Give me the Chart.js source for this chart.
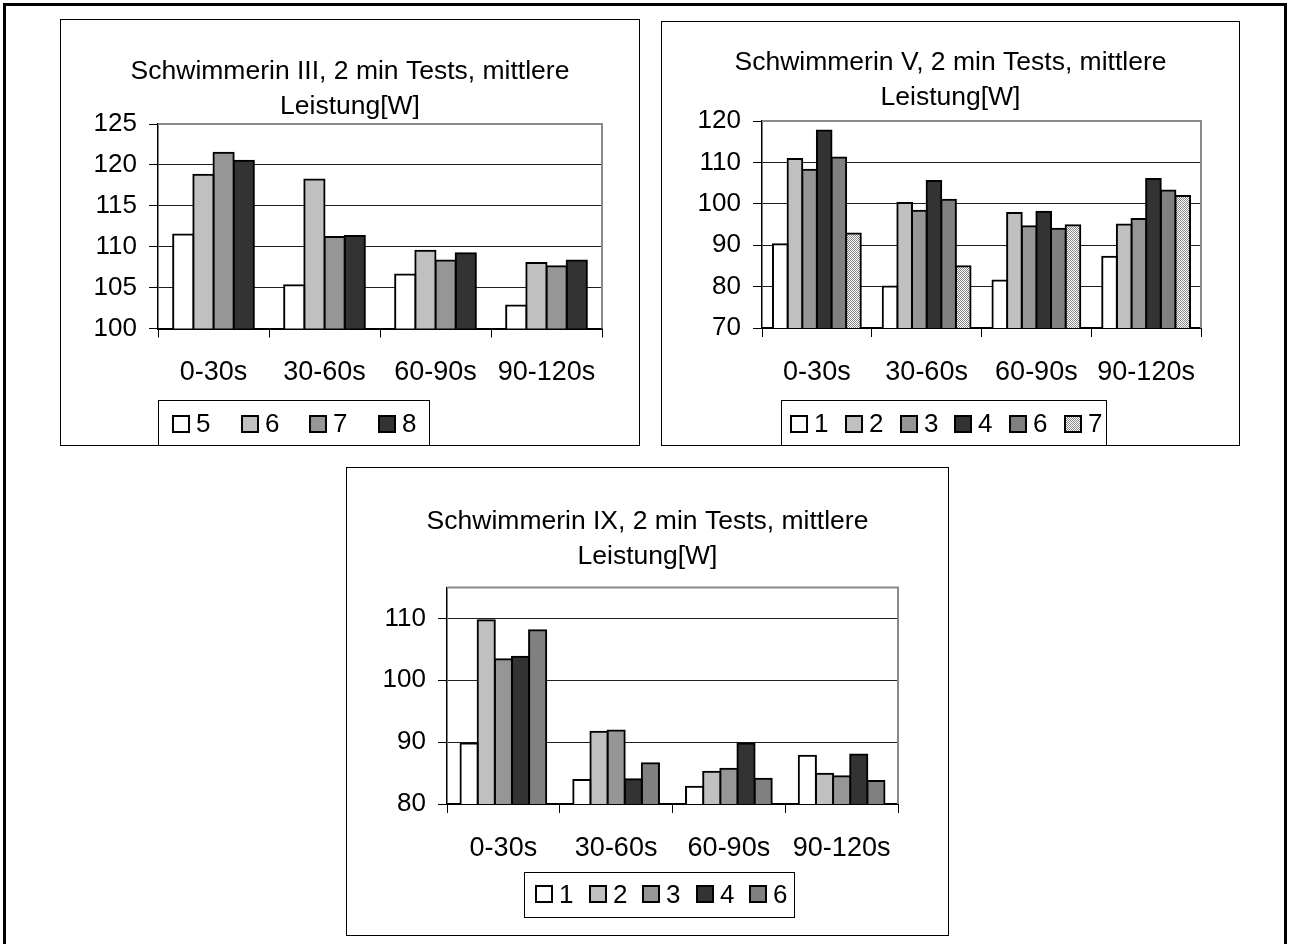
<!DOCTYPE html>
<html>
<head>
<meta charset="utf-8">
<title>Schwimmerinnen – 2 min Tests, mittlere Leistung</title>
<script src="https://cdn.jsdelivr.net/npm/chart.js@4/dist/chart.umd.min.js"></script>
<style>
  html, body { margin: 0; padding: 0; background: #fff; }
  body { width: 1290px; height: 944px; position: relative; overflow: hidden; }
  #frame { position: absolute; left: 3px; top: 3px; width: 1278px; height: 960px;
           border: 3px solid #000; border-bottom: none; }
  .panel { position: absolute; border: 1px solid #000; background: #fff; }
  .panel canvas { display: block; }
</style>
</head>
<body>
<div id="frame"></div>
<div class="panel" style="left:60px;top:19px;"><canvas id="chartIII" width="578" height="425"></canvas></div>
<div class="panel" style="left:661px;top:21px;"><canvas id="chartV" width="577" height="423"></canvas></div>
<div class="panel" style="left:346px;top:467px;"><canvas id="chartIX" width="601" height="467"></canvas></div>

<script>
// ---- data -------------------------------------------------------------
const categories = ['0-30s', '30-60s', '60-90s', '90-120s'];

// Schwimmerin III, mean power per 30 s segment [W]
const testsIII = ['5', '6', '7', '8'];
const iii_test5 = [111.5, 105.3, 106.6, 102.8];
const iii_test6 = [118.8, 118.2, 109.5, 108.0];
const iii_test7 = [121.5, 111.2, 108.3, 107.6];
const iii_test8 = [120.5, 111.3, 109.2, 108.3];
const yTicksIII = [100, 105, 110, 115, 120, 125];

// Schwimmerin V
const testsV = ['1', '2', '3', '4', '6', '7'];
const v_test1 = [90.2, 80.0, 81.5, 87.2];
const v_test2 = [110.8, 100.2, 97.8, 95.0];
const v_test3 = [108.2, 98.3, 94.6, 96.3];
const v_test4 = [117.7, 105.5, 98.1, 106.0];
const v_test6 = [111.2, 101.0, 94.0, 103.2];
const v_test7 = [92.8, 84.9, 94.8, 101.9];
const yTicksV = [70, 80, 90, 100, 110, 120];

// Schwimmerin IX
const testsIX = ['1', '2', '3', '4', '6'];
const ix_test1 = [89.8, 83.9, 82.8, 87.8];
const ix_test2 = [109.7, 91.7, 85.2, 84.9];
const ix_test3 = [103.4, 91.9, 85.7, 84.5];
const ix_test4 = [103.8, 84.0, 89.8, 88.0];
const ix_test6 = [108.1, 86.6, 84.1, 83.7];
const yTicksIX = [80, 90, 100, 110];
const yTopIX = 115;

// ---- styling ----------------------------------------------------------
const FONT = "'Liberation Sans', Arial, Helvetica, sans-serif";
const WHITE = '#ffffff', LIGHT = '#c0c0c0', MID = '#969696', DARK = '#333333', GREY = '#808080';

// fine dotted fill used for test 7 of Schwimmerin V
function dotPattern() {
  const c = document.createElement('canvas');
  c.width = 2; c.height = 2;
  const g = c.getContext('2d');
  g.fillStyle = '#ffffff'; g.fillRect(0, 0, 2, 2);
  g.fillStyle = '#8a8a8a';
  g.fillRect(0, 0, 1, 1);
  g.fillRect(1, 1, 1, 1);
  return g.createPattern(c, 'repeat');
}
const DOTS = dotPattern();

Chart.defaults.font.family = FONT;
Chart.defaults.color = '#000';

// grey top/right edge of the plot area
const plotFrame = {
  id: 'plotFrame',
  beforeDatasetsDraw(chart) {
    const { ctx, chartArea: a } = chart;
    ctx.save();
    ctx.strokeStyle = '#8a8a8a';
    ctx.lineWidth = 2;
    ctx.beginPath();
    ctx.moveTo(a.left, a.top);
    ctx.lineTo(a.right, a.top);
    ctx.lineTo(a.right, a.bottom);
    ctx.stroke();
    ctx.restore();
  }
};

// legend drawn inside a bordered box below the category labels
const boxedLegend = {
  id: 'boxedLegend',
  afterDraw(chart, args, o) {
    const ctx = chart.ctx;
    ctx.save();
    ctx.fillStyle = '#fff';
    ctx.fillRect(o.x, o.y, o.w, o.h);
    ctx.strokeStyle = '#000';
    ctx.lineWidth = 1;
    ctx.strokeRect(o.x + 0.5, o.y + 0.5, o.w - 1, o.h - 1);
    ctx.font = `26px ${FONT}`;
    ctx.textBaseline = 'middle';
    ctx.textAlign = 'left';
    chart.data.datasets.forEach((ds, i) => {
      const sx = Math.round(o.first + i * o.step);
      ctx.fillStyle = ds.backgroundColor;
      ctx.fillRect(sx, o.sy, o.size, o.size);
      ctx.lineWidth = 2;
      ctx.strokeStyle = '#000';
      ctx.strokeRect(sx + 1, o.sy + 1, o.size - 2, o.size - 2);
      ctx.fillStyle = '#000';
      ctx.fillText(ds.label, sx + o.size + 6, o.ty);
    });
    ctx.restore();
  }
};

function bars(label, data, color) {
  return {
    label, data,
    backgroundColor: color,
    borderColor: '#000',
    borderWidth: 2,
    inflateAmount: 1,
    borderSkipped: 'start'
  };
}

function makeChart(id, cfg) {
  const top = cfg.top !== undefined ? cfg.top : cfg.yTicks[cfg.yTicks.length - 1];
  return new Chart(document.getElementById(id), {
    type: 'bar',
    data: { labels: categories, datasets: cfg.datasets },
    plugins: [plotFrame, boxedLegend],
    options: {
      responsive: false,
      animation: false,
      devicePixelRatio: 1,
      datasets: { bar: { categoryPercentage: cfg.catPct, barPercentage: 1 } },
      layout: { padding: { top: cfg.padTop, left: 0, right: 0, bottom: 0 } },
      plugins: {
        legend: { display: false },
        tooltip: { enabled: false },
        title: {
          display: true,
          text: cfg.title,
          color: '#000',
          font: { family: FONT, size: 26.5, weight: 'normal', lineHeight: 35 / 26.5 },
          padding: { top: 0, bottom: cfg.titleGap }
        },
        boxedLegend: cfg.legend
      },
      scales: {
        x: {
          z: 1,
          afterFit: s => { s.height = cfg.xHeight; },
          grid: { drawOnChartArea: false, offset: true, tickLength: 9, color: '#000', lineWidth: 1 },
          border: { color: '#000', width: 2 },
          ticks: { color: '#000', padding: 19, font: { size: 27 }, maxRotation: 0, autoSkip: false }
        },
        y: {
          min: cfg.yTicks[0],
          max: top,
          afterBuildTicks: s => { s.ticks = cfg.yTicks.map(v => ({ value: v })); },
          afterFit: s => { s.width = cfg.yWidth; },
          grid: {
            color: c => (c.tick && c.tick.value === top) ? 'rgba(0,0,0,0)' : '#1e1e1e',
            tickColor: '#000',
            tickLength: 9,
            lineWidth: 1
          },
          border: { color: '#000', width: 1.5 },
          ticks: { color: '#000', padding: 12, font: { size: 26 } }
        },
        // empty strip on the right so the plot sits where the panel expects it
        gutter: {
          type: 'linear',
          position: 'right',
          display: true,
          afterFit: s => { s.width = cfg.rightGap; },
          grid: { display: false },
          border: { display: false },
          ticks: { display: false }
        }
      }
    }
  });
}

makeChart('chartIII', {
  title: ['Schwimmerin III, 2 min Tests, mittlere', 'Leistung[W]'],
  yTicks: yTicksIII,
  catPct: 0.727,
  padTop: 34,
  titleGap: 0,
  yWidth: 97,
  rightGap: 37,
  xHeight: 116.5,
  legend: { x: 97, y: 380, w: 272, h: 46, first: 111, step: 68.5, size: 18, sy: 395, ty: 405 },
  datasets: [
    bars(testsIII[0], iii_test5, WHITE),
    bars(testsIII[1], iii_test6, LIGHT),
    bars(testsIII[2], iii_test7, MID),
    bars(testsIII[3], iii_test8, DARK)
  ]
});

makeChart('chartV', {
  title: ['Schwimmerin V, 2 min Tests, mittlere', 'Leistung[W]'],
  yTicks: yTicksV,
  catPct: 0.8,
  padTop: 23,
  titleGap: 6,
  yWidth: 100,
  rightGap: 38,
  xHeight: 117,
  legend: { x: 119, y: 378, w: 326, h: 46, first: 128, step: 54.8, size: 18, sy: 393, ty: 403 },
  datasets: [
    bars(testsV[0], v_test1, WHITE),
    bars(testsV[1], v_test2, LIGHT),
    bars(testsV[2], v_test3, MID),
    bars(testsV[3], v_test4, DARK),
    bars(testsV[4], v_test6, GREY),
    bars(testsV[5], v_test7, DOTS)
  ]
});

makeChart('chartIX', {
  title: ['Schwimmerin IX, 2 min Tests, mittlere', 'Leistung[W]'],
  yTicks: yTicksIX,
  top: yTopIX,
  catPct: 0.76,
  padTop: 36,
  titleGap: 13.5,
  yWidth: 100,
  rightGap: 50,
  xHeight: 131,
  legend: { x: 177, y: 404, w: 271, h: 46, first: 188, step: 53.5, size: 18, sy: 417, ty: 428 },
  datasets: [
    bars(testsIX[0], ix_test1, WHITE),
    bars(testsIX[1], ix_test2, LIGHT),
    bars(testsIX[2], ix_test3, MID),
    bars(testsIX[3], ix_test4, DARK),
    bars(testsIX[4], ix_test6, GREY)
  ]
});
</script>
</body>
</html>
